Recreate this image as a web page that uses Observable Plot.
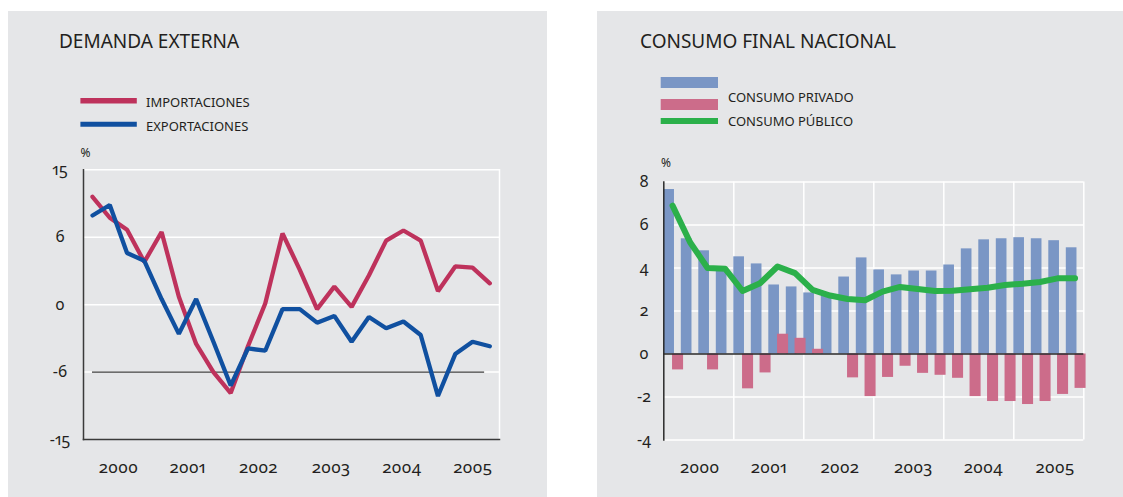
<!DOCTYPE html>
<html><head><meta charset="utf-8">
<script src="https://cdn.jsdelivr.net/npm/d3@7"></script>
<script src="https://cdn.jsdelivr.net/npm/@observablehq/plot@0.6"></script>
<style>
body{margin:0;background:#fff;}
#wrap{position:relative;width:1123px;height:497px;overflow:hidden;}
.panel{position:absolute;background:#e5e6e8;}
.panel svg{position:absolute;left:0;top:0;}
svg text{font-family:"Noto Sans",sans-serif;font-variant-numeric:oldstyle-nums proportional-nums;}
</style></head>
<body><div id="wrap">
<div class="panel" id="p1" style="left:8px;top:11px;width:539px;height:486px"></div>
<div class="panel" id="p2" style="left:597px;top:11px;width:526px;height:486px"></div>
</div>
<script>
// ---- data ----
const quarters = ["2000T1","2000T2","2000T3","2000T4","2001T1","2001T2","2001T3","2001T4",
  "2002T1","2002T2","2002T3","2002T4","2003T1","2003T2","2003T3","2003T4",
  "2004T1","2004T2","2004T3","2004T4","2005T1","2005T2","2005T3","2005T4"];
const years = ["2000","2001","2002","2003","2004","2005"];
const importaciones = [11.4, 8.6, 7.0, 3.8, 6.7, 0.7, -3.5, -6.0, -8.8, -3.7, 0.1, 6.5,
  3.1, -0.4, 1.6, -0.2, 2.6, 5.7, 6.9, 5.7, 1.2, 3.4, 3.3, 1.9];
const exportaciones = [8.9, 10.3, 4.6, 3.9, 0.5, -2.6, 0.5, -3.3, -7.8, -3.9, -4.1, -0.4,
  -0.4, -1.6, -1.0, -3.3, -1.1, -2.1, -1.5, -2.7, -9.2, -4.4, -3.3, -3.7];
const leftYTicks = [15, 6, 0, -6, -15];
const leftYearPos = [1.5, 5.5, 9.6, 13.8, 17.9, 22.0];

const consumoAzul = [7.65, 5.36, 4.80, 3.95, 4.52, 4.19, 3.21, 3.12, 2.84, 2.72, 3.58, 4.47,
  3.91, 3.68, 3.86, 3.86, 4.14, 4.89, 5.31, 5.36, 5.41, 5.36, 5.27, 4.94];
const consumoRosa = [-0.74, 0, -0.74, 0, -1.62, -0.88, 0.92, 0.73, 0.22, 0, -1.11, -1.98,
  -1.09, -0.57, -0.90, -0.99, -1.13, -1.98, -2.21, -2.21, -2.35, -2.21, -1.88, -1.60];
const consumoPublico = [6.9, 5.2, 4.0, 3.97, 2.93, 3.29, 4.07, 3.76, 2.98, 2.72, 2.56, 2.50,
  2.90, 3.12, 3.02, 2.93, 2.94, 3.01, 3.08, 3.21, 3.27, 3.35, 3.52, 3.52];
const rightYTicks = [8, 6, 4, 2, 0, -2, -4];
const rightYearPos = [2.05, 6.0, 10.05, 14.25, 18.25, 22.35];

// ---- styles ----
const INK = "#231f20";
const C_IMP = "#be325c", C_EXP = "#1050a0";
const C_AZUL = "#7a96c5", C_ROSA = "#cc6c8a", C_VERDE = "#2bb04a";
const GRID = "#ffffff";

const rows = (arr) => arr.map((v, i) => ({q: quarters[i], i, v}));
const impRows = rows(importaciones), expRows = rows(exportaciones);
const azulRows = rows(consumoAzul), rosaRows = rows(consumoRosa).filter(d => d.v !== 0), pubRows = rows(consumoPublico);
const leftYearMap = new Map(leftYearPos.map((p, k) => [p, years[k]]));
const rightYearMap = new Map(rightYearPos.map((p, k) => [p, years[k]]));

// the left axis spaces its (uneven) ticks evenly: piecewise mapping
const piece = d3.scaleLinear().domain([-15, -6, 0, 6, 15]).range([0, 1, 2, 3, 4]);

// ---- left chart ----
const left = Plot.plot({
  width: 539, height: 486,
  marginLeft: 75, marginRight: 48, marginTop: 158.3, marginBottom: 58,
  style: {background: "transparent", color: INK, overflow: "visible"},
  x: {domain: [0, 23], range: [84, 481.3]},
  y: {transform: piece, domain: [0, 4], range: [428, 158.3]},
  marks: [
    Plot.ruleY([15, 6, 0, -6], {stroke: GRID, strokeWidth: 1.5}),
    Plot.frame({anchor: "right", stroke: GRID, strokeWidth: 1.5}),
    Plot.ruleY([-6], {x1: 0, x2: 22.7, stroke: "#3c3c3c", strokeWidth: 1.4}),
    Plot.frame({anchor: "left", stroke: "#3a3a3a", strokeWidth: 1.5}),
    Plot.frame({anchor: "bottom", stroke: "#3a3a3a", strokeWidth: 1.5}),
    Plot.line(impRows, {x: "i", y: "v", stroke: C_IMP, strokeWidth: 4.3, strokeLinejoin: "miter"}),
    Plot.line(expRows, {x: "i", y: "v", stroke: C_EXP, strokeWidth: 4.3, strokeLinejoin: "miter"}),
    Plot.axisY({ticks: leftYTicks.map(piece), tickSize: 0, tickPadding: 23.5, textAnchor: "middle", label: null,
      tickFormat: d => String(Math.round(piece.invert(d))), fontSize: 16, fill: INK, fontVariant: "normal"}),
    Plot.axisX({ticks: leftYearPos, tickSize: 0, tickPadding: 21, label: null, tickFormat: d => leftYearMap.get(d),
      fontSize: 17, fill: INK, fontVariant: "normal"})
  ]
});
document.getElementById("p1").appendChild(left);

// ---- right chart ----
const right = Plot.plot({
  width: 526, height: 486,
  marginLeft: 66.3, marginRight: 39.7, marginTop: 170.5, marginBottom: 57.5,
  style: {background: "transparent", color: INK, overflow: "visible"},
  x: {domain: [0, 24]},
  y: {domain: [-4, 8], range: [428.5, 170.5]},
  marks: [
    Plot.ruleY([8, 6, 4, 2, -2, -4], {stroke: GRID, strokeWidth: 1.5}),
    Plot.ruleX(years.map((y, k) => 4 * (k + 1)), {stroke: GRID, strokeWidth: 1.5}),
    Plot.rect(azulRows, {x1: "i", x2: d => d.i + 0.61, y1: 0, y2: "v", fill: C_AZUL}),
    Plot.rect(rosaRows, {x1: d => d.i + 0.5, x2: d => d.i + 1.13, y1: 0, y2: "v", fill: C_ROSA}),
    Plot.ruleY([0], {stroke: "#2a2a2a", strokeWidth: 1.5}),
    Plot.frame({anchor: "left", stroke: "#2a2a2a", strokeWidth: 1.5}),
    Plot.line(pubRows, {x: d => d.i + 0.5, y: "v", stroke: C_VERDE, strokeWidth: 6, strokeLinejoin: "round"}),
    Plot.axisY({ticks: rightYTicks, tickSize: 0, tickPadding: 19.8, textAnchor: "middle", label: null,
      tickFormat: d => String(d), fontSize: 16, fill: INK, fontVariant: "normal"}),
    Plot.axisX({ticks: rightYearPos, tickSize: 0, tickPadding: 21, label: null, tickFormat: d => rightYearMap.get(d),
      fontSize: 17, fill: INK, fontVariant: "normal"})
  ]
});
document.getElementById("p2").appendChild(right);

// ---- titles, legends ----
function txt(svg, x, y, s, size) {
  d3.select(svg).append("text").attr("x", x).attr("y", y).attr("fill", INK)
    .attr("text-anchor", "start").attr("font-size", size).text(s);
}
function swatchLine(svg, x1, x2, y, color, w) {
  d3.select(svg).append("line").attr("x1", x1).attr("x2", x2).attr("y1", y).attr("y2", y)
    .attr("stroke", color).attr("stroke-width", w);
}
function swatchRect(svg, x, y, w, h, color) {
  d3.select(svg).append("rect").attr("x", x).attr("y", y).attr("width", w).attr("height", h).attr("fill", color);
}
txt(left, 51, 36.7, "DEMANDA EXTERNA", 19);
swatchLine(left, 72.4, 128.8, 89.8, C_IMP, 5.5);
swatchLine(left, 72.4, 128.8, 113.2, C_EXP, 5);
txt(left, 138, 95.7, "IMPORTACIONES", 13);
txt(left, 138, 119.7, "EXPORTACIONES", 13);
txt(left, 72.4, 145.7, "%", 12);

txt(right, 43, 36.7, "CONSUMO FINAL NACIONAL", 19);
swatchRect(right, 63.7, 66, 57.3, 11, C_AZUL);
swatchRect(right, 63.7, 88, 57.3, 11, C_ROSA);
swatchLine(right, 63.7, 121, 110, C_VERDE, 6);
txt(right, 131, 91.3, "CONSUMO PRIVADO", 13);
txt(right, 131, 115, "CONSUMO PÚBLICO", 13);
txt(right, 64, 156.3, "%", 12);
</script>
</body></html>
